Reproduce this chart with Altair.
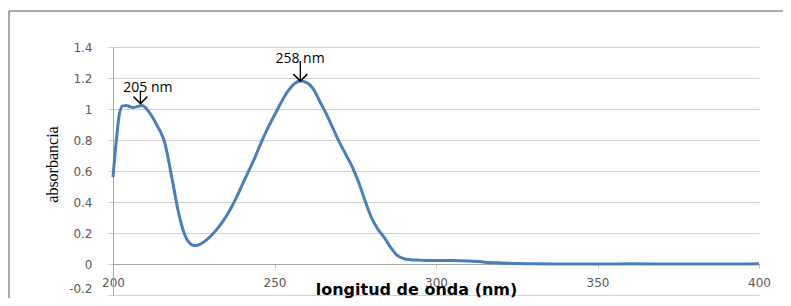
import altair as alt
import pandas as pd

# spectrum
wavelength = [200, 201, 202, 203, 204, 205, 206, 207, 208, 209, 210, 211, 212, 213, 214, 215,
              216, 217, 218, 219, 220, 221, 222, 223, 224, 225, 226, 227, 228, 230, 232, 234,
              236, 238, 240, 242, 244, 246, 248, 250, 252, 254, 256, 258, 260, 262, 264, 266,
              268, 270, 272, 274, 276, 278, 280, 282, 284, 286, 288, 290, 292, 295, 300, 305,
              310, 315, 320, 325, 330, 340, 350, 360, 370, 380, 390, 400]
absorbance = [0.56, 0.79, 0.97, 1.02, 1.022, 1.018, 1.01, 1.012, 1.018, 1.022, 1.01, 0.985, 0.955, 0.92, 0.88, 0.84,
              0.785, 0.69, 0.58, 0.47, 0.36, 0.27, 0.20, 0.155, 0.13, 0.12, 0.12, 0.128, 0.14, 0.175, 0.22, 0.275,
              0.34, 0.42, 0.51, 0.60, 0.69, 0.79, 0.88, 0.96, 1.04, 1.11, 1.16, 1.18, 1.17, 1.13, 1.05, 0.97,
              0.88, 0.79, 0.71, 0.63, 0.53, 0.41, 0.30, 0.225, 0.17, 0.105, 0.055, 0.035, 0.028, 0.025, 0.022, 0.022,
              0.02, 0.012, 0.007, 0.003, 0.001, 0.0, 0.0, 0.001, 0.0, 0.0, 0.0, 0.002]

# annotations
annot_labels = ["205 nm", "258 nm"]
annot_label_x = [210.8, 257.9]
annot_label_y = [1.135, 1.32]
arrow_x = [208.5, 258.0]
arrow_top = [1.116, 1.31]
arrow_tip = [1.035, 1.18]

x_ticks = [200, 250, 300, 350, 400]
y_ticks = [-0.2, 0, 0.2, 0.4, 0.6, 0.8, 1.0, 1.2, 1.4]

spec = pd.DataFrame({"nm": wavelength, "abs": absorbance})
ann = pd.DataFrame({"label": annot_labels, "lx": annot_label_x, "ly": annot_label_y,
                    "ax": arrow_x, "atop": arrow_top, "atip": arrow_tip})

xscale = alt.Scale(domain=[200, 400], nice=False, zero=False)
yscale = alt.Scale(domain=[-0.2, 1.4], nice=False, zero=False)

xaxis = alt.Axis(values=x_ticks, tickCount=20, grid=False, offset=-31, domainColor="#a6a6a6",
                 tickColor="#bfbfbf", tickSize=4, labelPadding=9, labelFlush=False,
                 labelOverlap=False,
                 labelFont="DejaVu Sans", labelFontSize=12, labelColor="#595959",
                 title="longitud de onda (nm)", titleFont="DejaVu Sans", titleFontSize=16,
                 titleFontWeight="bold", titleColor="#000000", titleX=303, titleY=25,
                 titleBaseline="middle", titleAlign="center")
yaxis = alt.Axis(values=y_ticks, tickCount=20, grid=True, gridColor="#d0d0d0", domainColor="#a6a6a6",
                 tickColor="#d0d0d0", tickSize=5, labelPadding=16, labelOverlap=False,
                 labelFlush=False,
                 labelBaseline={"condition": {"test": "datum.value < -0.1", "value": "bottom"},
                                "value": "middle"},
                 labelExpr="replace(format(datum.value, '~f'), '\u2212', '-')",
                 labelFont="DejaVu Sans", labelFontSize=12, labelColor="#595959",
                 title="absorbancia", titleFont="Liberation Sans Narrow", titleFontSize=16,
                 titleFontWeight="normal", titleColor="#000000", titleX=-61, titleY=117,
                 titleBaseline="middle", titleAlign="center", titleAngle=-90)

line = alt.Chart(spec).mark_line(color="#4a7ebb", strokeWidth=3, interpolate="monotone").encode(
    x=alt.X("nm:Q", scale=xscale, axis=xaxis),
    y=alt.Y("abs:Q", scale=yscale, axis=yaxis),
)

labels = alt.Chart(ann).mark_text(font="Open Sans", fontSize=14, color="#000000", baseline="middle").encode(
    x=alt.X("lx:Q", scale=xscale), y=alt.Y("ly:Q", scale=yscale), text="label:N")

shafts = alt.Chart(ann).mark_rule(color="#000000", strokeWidth=1.3).encode(
    x=alt.X("ax:Q", scale=xscale), y=alt.Y("atop:Q", scale=yscale), y2="atip:Q")

heads = alt.Chart(ann).mark_point(shape="M-1,-1L0,0L1,-1", size=196, filled=False,
                                   color="#000000", strokeWidth=1.5, opacity=1).encode(
    x=alt.X("ax:Q", scale=xscale), y=alt.Y("atip:Q", scale=yscale))

frame_top = alt.Chart(ann).mark_rule(color="#8c8c8c", strokeWidth=1).encode(
    x=alt.value(-104), x2=alt.value(700), y=alt.value(-36))
frame_left = alt.Chart(ann).mark_rule(color="#8c8c8c", strokeWidth=1).encode(
    x=alt.value(-104), y=alt.value(-36), y2=alt.value(300))

chart = alt.layer(line, frame_top, frame_left, shafts, heads, labels).properties(
    width=646, height=248,
    autosize=alt.AutoSizeParams(type="none"),
    padding={"left": 105, "top": 39, "right": 24, "bottom": 3},
).configure(background="white", view=alt.ViewConfig(stroke=None))

chart.save("out.html", embed_options={"renderer": "svg", "actions": False})
